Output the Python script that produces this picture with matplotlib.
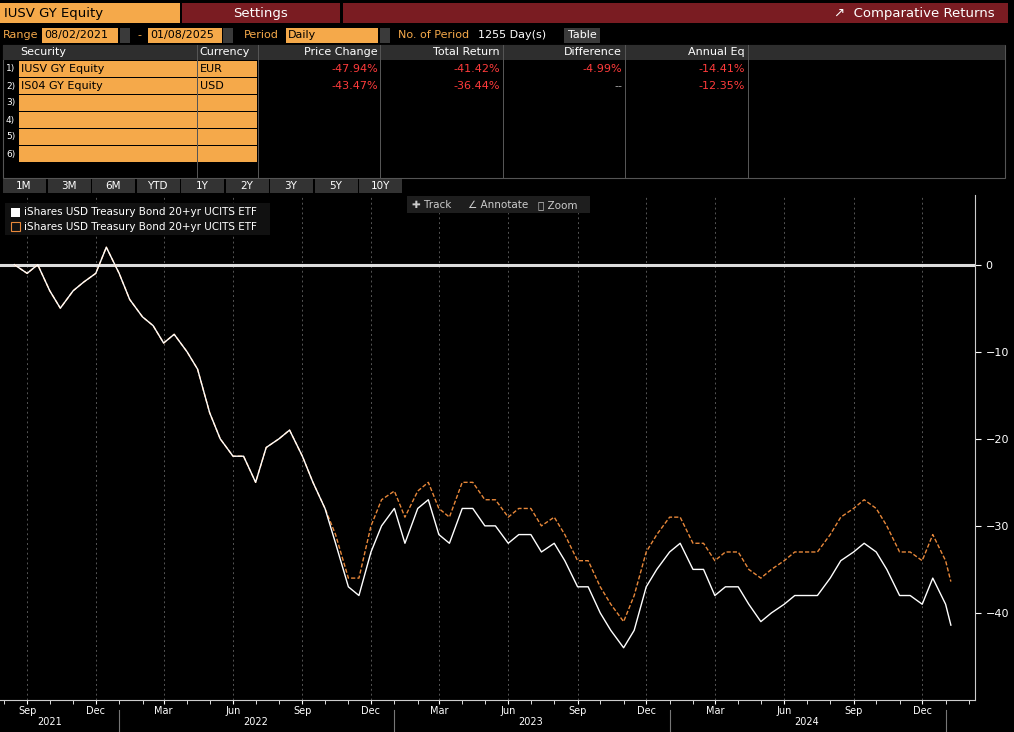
import matplotlib
matplotlib.use("Agg")
import matplotlib.pyplot as plt
import matplotlib.dates as mdates
from matplotlib.patches import Rectangle
import pandas as pd

# ---------------- data ----------------
dates = pd.date_range("2021-08-02", "2025-01-01", freq="SMS").tolist() + [pd.Timestamp("2025-01-08")]
eur_tr = [0, -1, 0, -3, -5, -3, -2, -1, 2, -1, -4, -6, -7, -9, -8, -10, -12, -17, -20, -22,
          -22, -25, -21, -20, -19, -22, -25, -28, -32, -37, -38, -33, -30, -28, -32, -28, -27, -31,
          -32, -28, -28, -30, -30, -32, -31, -31, -33, -32, -34, -37, -37, -40, -42, -44, -42, -37,
          -35, -33, -32, -35, -35, -38, -37, -37, -39, -41, -40, -39, -38, -38, -38, -36, -34, -33,
          -32, -33, -35, -38, -38, -39, -36, -39, -41.4]
usd_tr = [0, -1, 0, -3, -5, -3, -2, -1, 2, -1, -4, -6, -7, -9, -8, -10, -12, -17, -20, -22,
          -22, -25, -21, -20, -19, -22, -25, -28, -31, -36, -36, -30, -27, -26, -29, -26, -25, -28,
          -29, -25, -25, -27, -27, -29, -28, -28, -30, -29, -31, -34, -34, -37, -39, -41, -38, -33,
          -31, -29, -29, -32, -32, -34, -33, -33, -35, -36, -35, -34, -33, -33, -33, -31, -29, -28,
          -27, -28, -30, -33, -33, -34, -31, -34, -36.4]
securities = ["IUSV GY Equity", "IS04 GY Equity"]
currencies = ["EUR", "USD"]
price_change = ["-47.94%", "-43.47%"]
total_return = ["-41.42%", "-36.44%"]
difference = ["-4.99%", "--"]
annual_eq = ["-14.41%", "-12.35%"]
yticks = [0, -10, -20, -30, -40]
periods = ["1M", "3M", "6M", "YTD", "1Y", "2Y", "3Y", "5Y", "10Y"]

W, H = 1014, 732
ORANGE = "#f5a94a"
DRED = "#7a1c22"
GREY = "#3a3a3a"
FONT = "DejaVu Sans"
fig = plt.figure(figsize=(W / 100, H / 100), dpi=100, facecolor="black")

def box(x, y, w, h, color, ec="none"):
    fig.patches.append(Rectangle((x / W, 1 - (y + h) / H), w / W, h / H, transform=fig.transFigure,
                                 facecolor=color, edgecolor=ec, lw=0.8))

def txt(x, y, s, color="white", size=8, ha="left", **kw):
    fig.text(x / W, 1 - y / H, s, color=color, fontsize=size, ha=ha, va="center", family=FONT, **kw)

# top bar
box(0, 3, 180, 20, ORANGE)
txt(4, 13, "IUSV GY Equity", "black", 9.5)
box(182, 3, 158, 20, DRED)
txt(261, 13, "Settings", "white", 9.5, ha="center")
box(343, 3, 665, 20, DRED)
txt(995, 13, "\u2197  Comparative Returns", "white", 9.5, ha="right")
# second row
txt(3, 35, "Range", ORANGE, 8)
box(42, 28, 76, 15, ORANGE); txt(44, 35, "08/02/2021", "black", 8)
box(120, 28, 10, 15, GREY)
txt(137, 35, "-", ORANGE, 8)
box(148, 28, 74, 15, ORANGE); txt(150, 35, "01/08/2025", "black", 8)
box(223, 28, 10, 15, GREY)
txt(244, 35, "Period", ORANGE, 8)
box(286, 28, 92, 15, ORANGE); txt(288, 35, "Daily", "black", 8)
box(380, 28, 10, 15, GREY)
txt(398, 35, "No. of Period", ORANGE, 8)
txt(478, 35, "1255 Day(s)", "white", 8)
box(564, 28, 36, 15, GREY); txt(582, 35, "Table", "white", 8, ha="center")

# table
box(3, 45, 1002, 133, "black", ec="#555555")
box(3, 45, 1002, 15, "#2e2e2e")
cols = [5, 197, 258, 380, 503, 625, 748]
for c in cols[1:]:
    box(c, 45, 0.8, 133, "#555555")
txt(20, 52, "Security", "white", 8)
txt(199, 52, "Currency", "white", 8)
for x, s in zip([378, 500, 622, 745], ["Price Change", "Total Return", "Difference", "Annual Eq"]):
    txt(x, 52, s, "white", 8, ha="right")
for i in range(6):
    y = 61 + i * 17
    box(19, y, 178, 16, ORANGE)
    box(198, y, 59, 16, ORANGE)
    txt(6, y + 8, f"{i+1})", "white", 6.5)
    if i < len(securities):
        txt(21, y + 8, securities[i], "black", 8)
        txt(200, y + 8, currencies[i], "black", 8)
        for x, v in zip([378, 500, 622, 745], [price_change[i], total_return[i], difference[i], annual_eq[i]]):
            txt(x, y + 8, v, "#ff3b3b" if v != "--" else "#aaaaaa", 8, ha="right")

# period buttons
for i, p in enumerate(periods):
    box(3 + i * 44.5, 179, 43, 14, "#333333")
    txt(3 + i * 44.5 + 21, 186, p, "white", 7.5, ha="center")

# ---------------- chart ----------------
ax = fig.add_axes([0, (H - 700) / H, 975 / W, 505 / H], facecolor="black")
ax.plot(dates, usd_tr, color="#e8883a", lw=1, ls=(0, (3, 1.5)), zorder=3)
ax.plot(dates, eur_tr, color="white", lw=1, zorder=4)
ax.axhline(0, color="#dddddd", lw=2.2, zorder=2)
ax.set_xlim(pd.Timestamp("2021-07-27"), pd.Timestamp("2025-02-09"))
ax.set_ylim(-50, 8)
ax.yaxis.tick_right()
ax.set_yticks(yticks)
ax.tick_params(axis="y", colors="white", labelsize=8, length=4, direction="out")
for s in ["top", "left"]:
    ax.spines[s].set_visible(False)
ax.spines["right"].set_color("#cccccc")
ax.spines["bottom"].set_color("#cccccc")
ax.xaxis.set_major_locator(mdates.MonthLocator(bymonth=[3, 6, 9, 12]))
ax.xaxis.set_major_formatter(mdates.DateFormatter("%b"))
ax.xaxis.set_minor_locator(mdates.MonthLocator())
ax.tick_params(axis="x", which="both", colors="white", labelsize=7, length=3, pad=1.5)
ax.grid(axis="x", which="major", color="#555555", ls=(0, (2, 3)), lw=0.7)
for yr, mid in [(2021, "2021-10-01"), (2022, "2022-07-01"), (2023, "2023-07-01"), (2024, "2024-07-01")]:
    ax.text(pd.Timestamp(mid), -0.044, str(yr), transform=ax.get_xaxis_transform(), color="white",
            fontsize=7, ha="center", va="center", family=FONT)
for yr in ["2022-01-01", "2023-01-01", "2024-01-01", "2025-01-01"]:
    ax.plot([pd.Timestamp(yr)] * 2, [-0.02, -0.065], transform=ax.get_xaxis_transform(),
            color="#777777", lw=0.8, clip_on=False)

# legend + toolbar
box(5, 203, 265, 32, "#111111")
box(11, 208, 9, 9, "white"); txt(24, 212, "iShares USD Treasury Bond 20+yr UCITS ETF", "white", 7.5)
box(11, 222, 9, 9, "none", ec="#e8883a"); txt(24, 227, "iShares USD Treasury Bond 20+yr UCITS ETF", "white", 7.5)
box(407, 196, 183, 17, "#1e1e1e")
txt(412, 205, "\u271a Track", "#cccccc", 7.5)
txt(468, 205, "\u2220 Annotate", "#cccccc", 7.5)
txt(538, 205, "\u2315 Zoom", "#cccccc", 7.5)

fig.savefig("out.png", dpi=100, facecolor="black")
